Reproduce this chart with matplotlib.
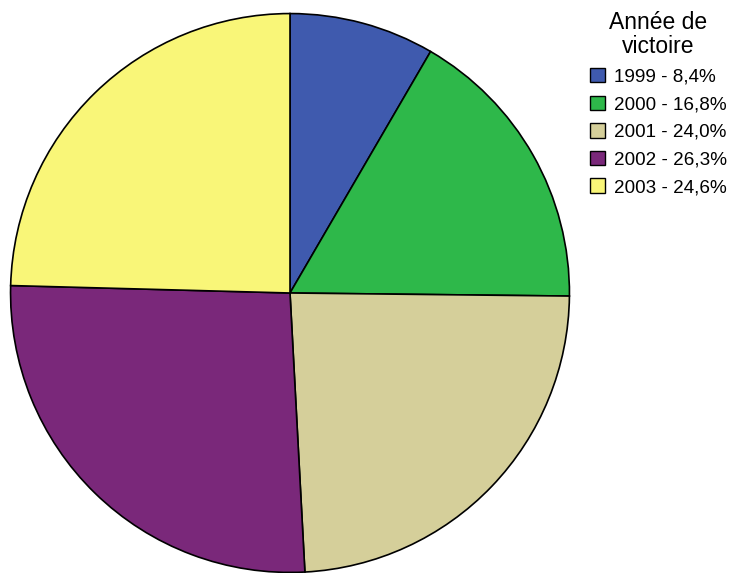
import matplotlib.pyplot as plt
from matplotlib.patches import Patch

plt.rcParams['font.family'] = ['Liberation Sans', 'DejaVu Sans']

years = ["1999", "2000", "2001", "2002", "2003"]
shares = [8.4, 16.8, 24.0, 26.3, 24.6]
colors = ["#3F5AAE", "#2EB84A", "#D5CF9A", "#7A287A", "#F9F678"]

fig = plt.figure(figsize=(7.34, 5.73), dpi=100)
ax = fig.add_axes([10 / 734, 0 / 573, 560 / 734, 560 / 573])
ax.pie(shares, colors=colors, startangle=90, counterclock=False,
       wedgeprops=dict(edgecolor="black", linewidth=1.2), radius=1.0)
ax.set_xlim(-1.002, 1.002)
ax.set_ylim(-1.002, 1.002)
ax.set_aspect("equal")
ax.axis("off")

labels = ["{} - {}%".format(y, ("%.1f" % s).replace(".", ",")) for y, s in zip(years, shares)]
handles = [Patch(facecolor=c, edgecolor="black", linewidth=1.0) for c in colors]
leg = fig.legend(handles, labels, title="Année de\nvictoire",
                 loc="upper left", bbox_to_anchor=(577 / 734, 1 + 2 / 573),
                 frameon=False, fontsize=13.6, title_fontsize=16.5,
                 handlelength=0.8, handleheight=0.8, handletextpad=0.45,
                 labelspacing=0.52, borderpad=0.2)
leg.get_title().set_multialignment("center")
leg.get_title().set_linespacing(1.05)

fig.savefig("out.png", dpi=100)
